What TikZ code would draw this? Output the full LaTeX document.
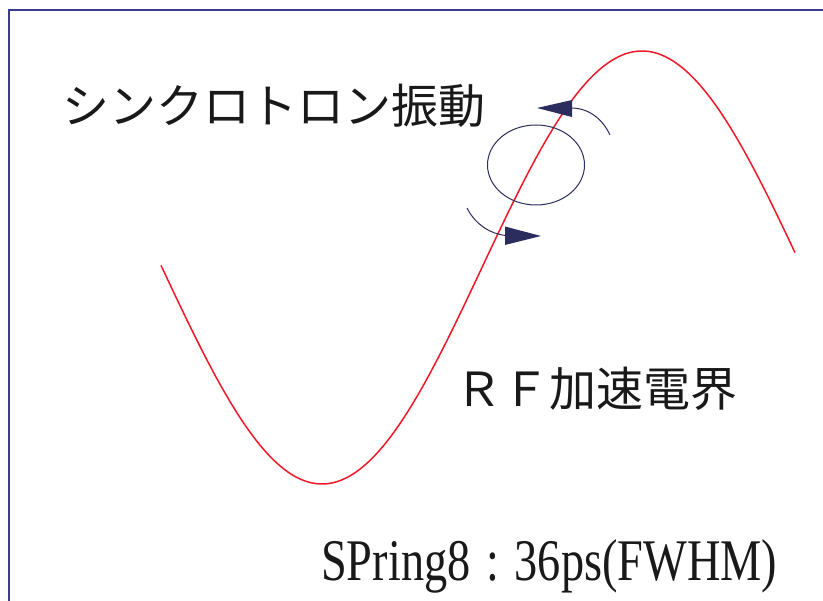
\documentclass[tikz,border=0pt]{standalone}
\usepackage{fontspec}
\setmainfont{Liberation Serif}
\newfontfamily\cjk{Noto Sans CJK JP}
\definecolor{framec}{HTML}{3C3C8C}
\definecolor{navy}{HTML}{2B2D5E}
\definecolor{wave}{HTML}{F01828}
\begin{document}
\begin{tikzpicture}[x=1pt,y=-1pt,
  jtext/.style={inner sep=0pt,font=\cjk\fontsize{47}{50}\selectfont,text=black!90},
  navyline/.style={draw=navy,line width=1pt},
  navyhead/.style={fill=navy,draw=none}]
\useasboundingbox (0,0) rectangle (823,601);
% frame
\draw[framec,line width=2pt] (9,601) -- (9,10) -- (823,10);
% RF wave
\draw[wave,line width=1.5pt,smooth] plot[domain=161:795,samples=120] (\x,{267.5+216.5*sin((\x-162)/320*180)});
% synchrotron oscillation
\draw[navyline] (536,165) ellipse [x radius=48.5,y radius=40];
\draw[navyline] (610,135) .. controls (602,118) and (588,108) .. (571,108);
\fill[navyhead] (537,108) -- (572,100) -- (572,117) -- cycle;
\draw[navyline] (467,208) .. controls (475,224) and (490,234) .. (506,235.5);
\fill[navyhead] (541,236) -- (505,226.5) -- (505,245) -- cycle;
% texts
\node[jtext,anchor=west] (sync) at (62,106) {シンクロトロン振動};
\node[jtext,anchor=west] (rf) at (455,389) {ＲＦ加速電界};
\node[inner sep=0pt,anchor=base west,text=black!90] (spring) at (321,581)
  {\scalebox{0.785}[1]{\fontsize{59}{60}\selectfont SPring8\hspace{20pt}:\hspace{20pt}36ps(FWHM)}};
\end{tikzpicture}
\end{document}
